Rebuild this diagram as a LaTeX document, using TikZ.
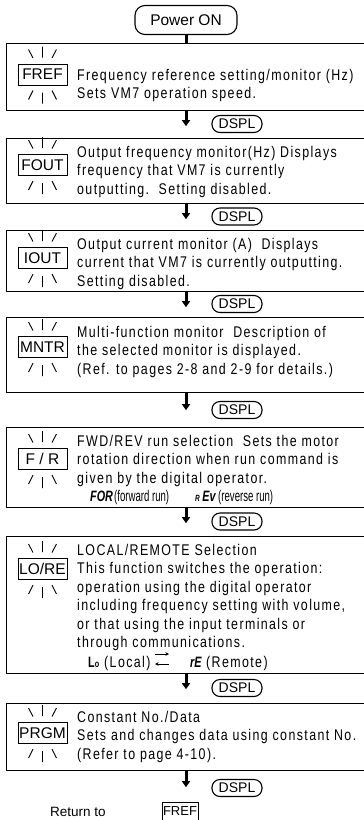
\documentclass[tikz,border=0pt]{standalone}
\usepackage{fontspec}
\setmainfont{Liberation Sans}
\newfontfamily\descfont[FakeStretch=0.8,LetterSpace=9]{Liberation Sans}
\newfontfamily\narrowfont[FakeStretch=0.62]{Liberation Sans}
\newfontfamily\segfont[FakeStretch=0.72]{Liberation Sans}
\usetikzlibrary{arrows.meta}
\tikzset{
 mainbox/.style={draw, line width=1.2pt, anchor=north west, inner sep=0pt, minimum width=370pt},
 lbl/.style={draw, line width=1pt, minimum width=49pt, minimum height=21pt, inner sep=0pt, font=\fontsize{15.5}{16}\selectfont},
 oval/.style={draw, line width=1.1pt, rounded corners=8pt, minimum width=50pt, minimum height=17pt, inner sep=0pt, font=\fontsize{14}{15}\selectfont},
 ray/.style={line width=0.9pt},
 bigarrow/.style={line width=3pt, -{Triangle[width=8pt,length=6pt]}},
 desc/.style={anchor=base west, inner sep=0pt, font=\descfont\fontsize{15.5}{18}\selectfont},
 seg/.style={anchor=base west, inner sep=0pt, font=\segfont\fontsize{15}{16}\selectfont\bfseries\itshape},
 narrow/.style={anchor=base west, inner sep=0pt, font=\narrowfont\fontsize{15.5}{16}\selectfont},
 thinarrow/.style={line width=0.6pt, -{Stealth[length=3.5pt,width=3.5pt]}},
}
\newcommand{\blink}[1]{%
 \draw[ray] ([shift={(-14,-25)}]#1.center) -- ([shift={(-9.5,-16.5)}]#1.center)
   ([shift={(0,-28)}]#1.center) -- ([shift={(0,-17)}]#1.center)
   ([shift={(14,-25)}]#1.center) -- ([shift={(9.5,-16.5)}]#1.center)
   ([shift={(-14,25)}]#1.center) -- ([shift={(-9.5,16)}]#1.center)
   ([shift={(0,18)}]#1.center) -- ([shift={(0,29)}]#1.center)
   ([shift={(14,25)}]#1.center) -- ([shift={(9.5,16)}]#1.center);}
\newcommand{\desclines}[3]{%
 \foreach \t [count=\i] in {#3} {\node[desc] (#1-\i) at (77, {#2+18.5*(\i-1)}) {\t};}}
\begin{document}
\begin{tikzpicture}[x=1pt,y=-1pt]
\useasboundingbox (0,0) rectangle (364,820);
\clip (0,0) rectangle (364,820);
% start
\node[draw, line width=1.1pt, rounded corners=10pt, minimum width=102pt, minimum height=29pt, inner sep=0pt, font=\fontsize{15.5}{16}\selectfont] (pon) at (186,20) {Power ON};
% main boxes
\node[mainbox, minimum height=67pt] (b1) at (6,43) {};
\node[mainbox, minimum height=65pt] (b2) at (6,138) {};
\node[mainbox, minimum height=61pt] (b3) at (6,230) {};
\node[mainbox, minimum height=75pt] (b4) at (6,317) {};
\node[mainbox, minimum height=80pt] (b5) at (6,427) {};
\node[mainbox, minimum height=137pt] (b6) at (6,536) {};
\node[mainbox, minimum height=67pt] (b7) at (6,703) {};
% labels
\node[lbl] (l1) at (42.5,74.5) {FREF};
\node[lbl] (l2) at (42.5,165) {FOUT};
\node[lbl] (l3) at (42.5,258) {IOUT};
\node[lbl] (l4) at (42.5,347) {MNTR};
\node[lbl] (l5) at (42.5,459) {F / R};
\node[lbl] (l6) at (42.5,569) {LO/RE};
\node[lbl] (l7) at (42.5,733) {PRGM};
\blink{l1}\blink{l2}\blink{l3}\blink{l4}\blink{l5}\blink{l6}\blink{l7}
% texts
\desclines{t1}{80}{{Frequency reference setting/monitor (Hz)},{Sets VM7 operation speed.}}
\desclines{t2}{157}{{Output frequency monitor(Hz) Displays},{frequency that VM7 is currently},{outputting.\ \ Setting disabled.}}
\desclines{t3}{249}{{Output current monitor (A)\ \ Displays},{current that VM7 is currently outputting.},{Setting disabled.}}
\desclines{t4}{337}{{Multi-function monitor\ \ Description of},{the selected monitor is displayed.},{(Ref. to pages 2-8 and 2-9 for details.)}}
\desclines{t5}{446}{{FWD/REV run selection\ \ Sets the motor},{rotation direction when run command is},{given by the digital operator.}}
\node[seg] (for) at (90,501) {FOR};
\node[narrow] (forw) at (114,501) {(forward run)};
\node[seg] (rev) at (195,501) {{\fontsize{9}{10}\selectfont R}\,Ev};
\node[narrow] (revw) at (218,501) {(reverse run)};
\desclines{t6}{555}{{LOCAL/REMOTE Selection},{This function switches the operation:},{operation using the digital operator},{including frequency setting with volume,},{or that using the input terminals or},{through communications.}}
\node[seg, font=\segfont\fontsize{15}{16}\selectfont\bfseries] (lo) at (88,667) {L{\fontsize{10}{10}\selectfont o}};
\node[desc] (local) at (104,667) {(Local)};
\node[seg] (re) at (190,667) {rE};
\node[desc] (remote) at (206,667) {(Remote)};
\coordinate (a1) at (155,654);
\coordinate (a2) at (169,654);
\coordinate (a3) at (169,664);
\coordinate (a4) at (155,664);
\draw[thinarrow] (a1) -- (a2);
\draw[thinarrow] (a3) -- (a4);
\desclines{t7}{722}{{Constant No./Data},{Sets and changes data using constant No.},{(Refer to page 4-10).}}
% DSPL keys
\node[oval] (d1) at (237,124) {DSPL};
\node[oval] (d2) at (237,216.5) {DSPL};
\node[oval] (d3) at (237,304) {DSPL};
\node[oval] (d4) at (237,410) {DSPL};
\node[oval] (d5) at (237,521.5) {DSPL};
\node[oval] (d6) at (237,688) {DSPL};
\node[oval] (d7) at (237,788) {DSPL};
% connectors
\draw[line width=3pt] (pon.south) -- (pon.south |- b1.north);
\draw[bigarrow] (b1.south -| pon.south) -- ++(0,15);
\draw[bigarrow] (b2.south -| pon.south) -- ++(0,15);
\draw[bigarrow] (b3.south -| pon.south) -- ++(0,15);
\draw[bigarrow] (b4.south -| pon.south) -- ++(0,17);
\draw[bigarrow] (b5.south -| pon.south) -- ++(0,15);
\draw[bigarrow] (b6.south -| pon.south) -- ++(0,15);
\draw[bigarrow] (b7.south -| pon.south) -- ++(0,16);
% end
\node[anchor=base west, inner sep=0pt, font=\fontsize{13.5}{14}\selectfont] (ret) at (50,816) {Return to};
\node[draw, line width=1pt, minimum width=36pt, minimum height=18pt, inner sep=0pt, font=\fontsize{13}{14}\selectfont] (fin) at (180,811) {FREF};
\end{tikzpicture}
\end{document}
